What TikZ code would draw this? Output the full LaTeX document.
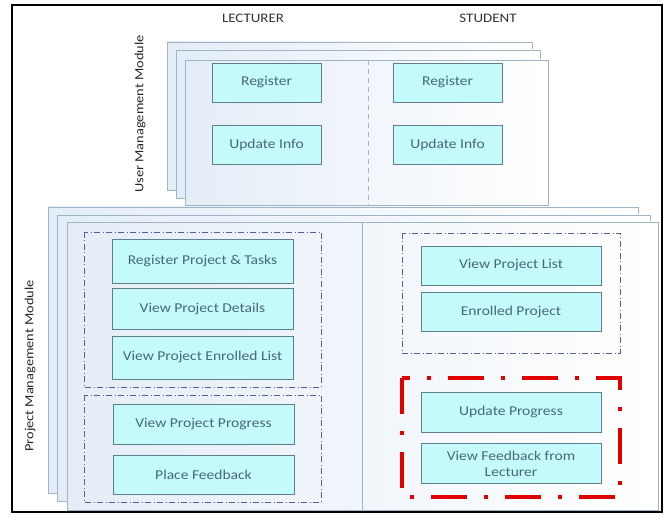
\documentclass[tikz,border=0pt]{standalone}
\usepackage{fontspec}
\setmainfont{Carlito}[FakeStretch=1.15]
\usepackage{tikz}
\usetikzlibrary{positioning,fit}
\definecolor{boxfill}{HTML}{C4FAFA}
\definecolor{boxline}{HTML}{5F7F8F}
\definecolor{boxtext}{HTML}{46687A}
\definecolor{pageline}{HTML}{9FB4C4}
\definecolor{pagetint}{HTML}{E4EDF7}
\definecolor{groupline}{HTML}{5C5C9C}
\definecolor{alertred}{HTML}{E00000}
\tikzstyle{task}   = [draw=boxline, fill=boxfill, text=boxtext, align=center, inner sep=1pt, font=\fontsize{13.5}{16}\selectfont]
\tikzstyle{small}  = [task, minimum width=109pt, minimum height=39pt]
\tikzstyle{wide}   = [task, minimum width=181pt, minimum height=41pt]
\tikzstyle{page}   = [draw=pageline, left color=pagetint, right color=white]
\tikzstyle{group}  = [draw=groupline, dash pattern=on 6pt off 2.5pt on 1pt off 2.5pt]
\tikzstyle{alert}  = [draw=alertred, line width=4pt, dash pattern=on 36pt off 17pt on 4pt off 17pt]
\tikzstyle{role}   = [text=black!80, font=\fontsize{13}{15}\selectfont]
\tikzstyle{module} = [rotate=90, text=black!85, font=\fontsize{12.5}{14}\selectfont]

\begin{document}
\begin{tikzpicture}[x=1pt, y=-1pt]
    \useasboundingbox (0,0) rectangle (671,518);
    \draw[line width=2pt] (12,5) rectangle (662,512);

    \node[role] (lect) at (253,18) {LECTURER};
    \node[role] (stud) at (488,18) {STUDENT};

    % user management module
    \draw[page] (167,42) rectangle (532,190);
    \draw[page] (176,50) rectangle (540,198);
    \draw[page] (185,60) rectangle (548,205);
    \draw[pageline, dash pattern=on 5pt off 4pt] (368,60) -- (368,205);
    \node[module] (umm) at (140,114) {User Management Module};

    \node[small] (regL) at (266.5,82.5) {Register};
    \node[small, below=23pt of regL] (updL) {Update Info};
    \node[small] (regS) at (447.5,82.5) {Register};
    \node[small, below=23pt of regS] (updS) {Update Info};

    % project management module
    \draw[page] (48,207) rectangle (638,493);
    \draw[page] (57,215) rectangle (650,501);
    \draw[page] (67,222) rectangle (658,510);
    \draw[pageline] (362,222) -- (362,510);
    \node[module] (pmm) at (30,366) {Project Management Module};

    \draw[group] (84,232) rectangle (321,387);
    \draw[group] (84,395) rectangle (321,502);
    \draw[group] (402,233) rectangle (620,353);
    \draw[alert] (402,378) rectangle (620,497);

    \node[wide, minimum height=44pt] (regPT) at (202.5,261) {Register Project \& Tasks};
    \node[wide, below=5pt of regPT] (viewPD) {View Project Details};
    \node[wide, minimum height=43pt, below=6pt of viewPD] (viewPEL) {View Project Enrolled List};
    \node[wide, minimum height=40pt] (viewPP) at (203.5,424) {View Project Progress};
    \node[wide, minimum height=39pt, below=11pt of viewPP] (placeF) {Place Feedback};

    \node[wide, minimum width=180pt, minimum height=39pt] (viewPL) at (511,265.5) {View Project List};
    \node[wide, minimum width=180pt, minimum height=39pt, below=7pt of viewPL] (enrP) {Enrolled Project};
    \node[wide, minimum width=180pt, minimum height=40pt] (updP) at (511,412) {Update Progress};
    \node[wide, minimum width=180pt, minimum height=40pt, below=11pt of updP] (viewFL) {View Feedback from\\Lecturer};
\end{tikzpicture}
\end{document}
